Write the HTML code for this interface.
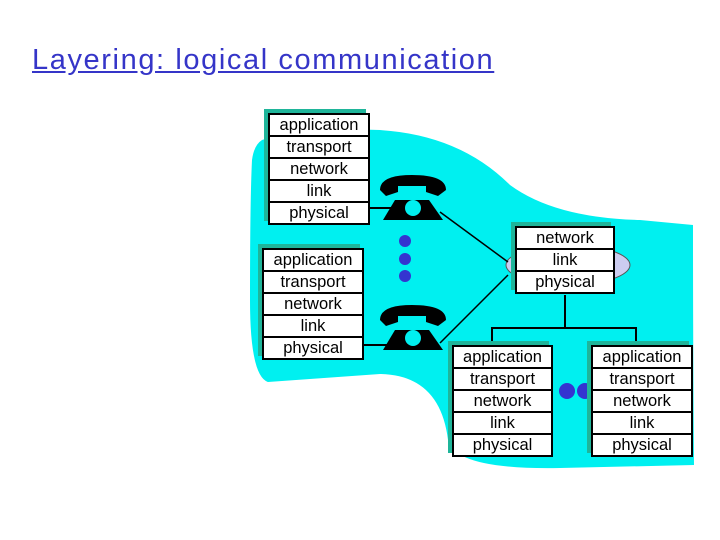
<!DOCTYPE html>
<html><head><style>
body{margin:0;width:720px;height:540px;background:#fff;overflow:hidden;position:relative;font-family:"Liberation Sans",sans-serif}
.t{position:absolute;left:32px;top:44px;font-size:29px;color:#3535c8;text-decoration:underline;letter-spacing:1.6px}
.s{position:absolute;background:#fff;border:2px solid #000;box-shadow:-4px -4px 0 #1fb59a}
.s div{height:20px;border-bottom:2px solid #000;text-align:center;font-size:16.5px;line-height:20px;color:#000}
.s div:last-child{border-bottom:none}
</style></head><body>
<div class="t">Layering: logical communication</div>
<svg width="720" height="540" style="position:absolute;left:0;top:0">
<path d="M262,140 Q300,127 380,130 Q460,135 510,185 Q555,218 640,220 L693,225 Q693,350 694,465 L560,468 Q455,470 448,440 Q440,375 380,374 L268,382 Q250,376 250,300 Q250,200 252,160 Q254,145 262,140 Z" fill="#00f0f0"/>
<ellipse cx="568" cy="265" rx="62" ry="20" fill="#ccccf0" stroke="#555"/>
<line x1="368" y1="208" x2="400" y2="208" stroke="#000" stroke-width="2"/>
<line x1="362" y1="345" x2="400" y2="345" stroke="#000" stroke-width="2"/>
<line x1="440" y1="212" x2="508" y2="262" stroke="#000" stroke-width="1.5"/>
<line x1="440" y1="343" x2="508" y2="275" stroke="#000" stroke-width="1.5"/>
<path d="M565,295 V328 M492,345 V328 H636 V345" stroke="#000" stroke-width="2" fill="none"/>
<g fill="#000">
<path d="M380,190 Q380,175 412,175 Q446,175 446,190 L438,196 L426,192 L426,186 L398,186 L398,192 L386,196 Z"/>
<path d="M395,200 L429,200 L443,220 L383,220 Z"/>
<path d="M380,320 Q380,305 412,305 Q446,305 446,320 L438,326 L426,322 L426,316 L398,316 L398,322 L386,326 Z"/>
<path d="M395,330 L429,330 L443,350 L383,350 Z"/>
</g>
<circle cx="413" cy="208" r="8" fill="#00f0f0"/>
<circle cx="413" cy="338" r="8" fill="#00f0f0"/>
<g fill="#3434d0">
<circle cx="405" cy="241" r="6"/><circle cx="405" cy="259" r="6"/><circle cx="405" cy="276" r="6"/>
<circle cx="567" cy="391" r="8"/><circle cx="585" cy="391" r="8"/>
</g>
</svg>
<div class="s" style="left:268px;top:113px;width:98px"><div>application</div><div>transport</div><div>network</div><div>link</div><div>physical</div></div>
<div class="s" style="left:262px;top:248px;width:98px"><div>application</div><div>transport</div><div>network</div><div>link</div><div>physical</div></div>
<div class="s" style="left:515px;top:226px;width:96px"><div>network</div><div>link</div><div>physical</div></div>
<div class="s" style="left:452px;top:345px;width:97px"><div>application</div><div>transport</div><div>network</div><div>link</div><div>physical</div></div>
<div class="s" style="left:591px;top:345px;width:98px"><div>application</div><div>transport</div><div>network</div><div>link</div><div>physical</div></div>
</body></html>
